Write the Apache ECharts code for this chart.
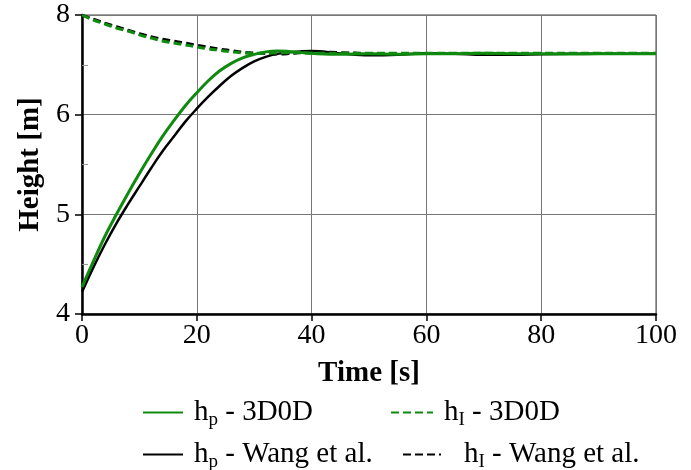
<!DOCTYPE html>
<html>
<head>
<meta charset="utf-8">
<script src="https://cdn.jsdelivr.net/npm/echarts@6/dist/echarts.min.js"></script>
<style>html,body{margin:0;padding:0;background:#fff}#c{width:691px;height:470px}</style>
</head>
<body>
<div id="c"></div>
<script>
// ---- data ----
const times = [0,2,4,6,8,10,12,14,16,18,20,22,24,26,28,30,32,34,36,38,40,45,50,55,60,65,70,75,80,85,90,95,100];
const hp3D0D = [4.27,4.53,4.78,5.00,5.21,5.41,5.60,5.78,5.94,6.09,6.22,6.34,6.44,6.515,6.57,6.605,6.63,6.64,6.635,6.625,6.615,6.605,6.61,6.605,6.61,6.612,6.615,6.612,6.61,6.608,6.61,6.612,6.612];
const hpWang = [4.22,4.47,4.70,4.91,5.10,5.28,5.46,5.63,5.78,5.93,6.06,6.18,6.29,6.39,6.47,6.535,6.58,6.61,6.625,6.635,6.64,6.615,6.595,6.60,6.615,6.61,6.60,6.60,6.605,6.61,6.612,6.612,6.612];
const hI3D0D = [7.0,6.95,6.91,6.87,6.84,6.80,6.77,6.74,6.72,6.70,6.68,6.66,6.645,6.63,6.62,6.615,6.615,6.62,6.622,6.62,6.615,6.615,6.615,6.615,6.615,6.615,6.615,6.615,6.615,6.615,6.615,6.615,6.615];
const hIWang = [7.0,6.96,6.92,6.885,6.85,6.815,6.785,6.76,6.74,6.72,6.70,6.68,6.66,6.645,6.63,6.62,6.61,6.605,6.61,6.62,6.63,6.625,6.615,6.61,6.615,6.615,6.615,6.615,6.615,6.615,6.615,6.615,6.615];
const xTicks = [0,20,40,60,80,100];
const yTickValues = [4,5,6,7];
const yTickLabels = ['4','5','6','8'];
const seriesNames = ['hp - Wang et al.','hI - Wang et al.','hp - 3D0D','hI - 3D0D'];

const pair = (arr) => times.map((t,i)=>[t,arr[i]]);
const FONT = '"Liberation Serif", "DejaVu Serif", serif';
const GREEN = '#0f8a0f';

const chart = echarts.init(document.getElementById('c'), null, {renderer:'canvas'});

function legendItem(name, left, top, width, sub, rest, gap){
  return {
    data:[name], left:left, top:top, itemWidth:width, itemHeight:14,
    padding:0,
    itemStyle:{opacity:0},
    formatter: () => '{g|}{a|h}{b|' + sub + '}{a|' + rest + '}',
    textStyle:{
      fontFamily:FONT, color:'#000',
      rich:{
        g:{width:gap},
        a:{fontSize:29, fontFamily:FONT, color:'#000'},
        b:{fontSize:19, fontFamily:FONT, color:'#000', padding:[15,0,0,0]}
      }
    }
  };
}

const option = {
  animation:false,
  backgroundColor:'#fff',
  grid:{left:82, right:35, top:15, bottom:156, show:true, borderColor:'#444', borderWidth:1, backgroundColor:'transparent'},
  xAxis:{
    type:'value', min:0, max:100, interval:20,
    name:'Time [s]', nameLocation:'middle', nameGap:45,
    nameTextStyle:{fontFamily:FONT, fontSize:29, fontWeight:'bold', color:'#000'},
    axisLine:{show:true, lineStyle:{color:'#000', width:2.5}},
    axisTick:{show:true, length:7, lineStyle:{color:'#000', width:1.5}},
    axisLabel:{fontFamily:FONT, fontSize:28, color:'#000', margin:8,
      formatter:(v)=> xTicks.includes(v) ? String(v) : ''},
    splitLine:{show:true, lineStyle:{color:'#777', width:1}}
  },
  yAxis:{
    type:'value', min:4, max:7, interval:1,
    name:'Height [m]', nameLocation:'middle', nameGap:31,
    nameTextStyle:{fontFamily:FONT, fontSize:29, fontWeight:'bold', color:'#000'},
    axisLine:{show:true, lineStyle:{color:'#000', width:2.5}},
    axisTick:{show:true, length:7, lineStyle:{color:'#000', width:1.5}},
    minorTick:{show:true, splitNumber:2, length:-6, lineStyle:{color:'#999', width:1}},
    axisLabel:{fontFamily:FONT, fontSize:28, color:'#000', margin:12,
      formatter:(v)=>{const i=yTickValues.indexOf(v); return i>=0?yTickLabels[i]:'';}},
    splitLine:{show:true, lineStyle:{color:'#777', width:1}}
  },
  legend:[
    legendItem(seriesNames[2], 142, 398, 40, 'p', ' - 3D0D', 6),
    legendItem(seriesNames[3], 390, 398, 42, 'I', ' - 3D0D', 6),
    legendItem(seriesNames[0], 142, 440, 40, 'p', ' - Wang et al.', 6),
    legendItem(seriesNames[1], 402, 440, 38, 'I', ' - Wang et al.', 18)
  ],
  series:[
    {name:seriesNames[0], type:'line', data:pair(hpWang), smooth:0.4, symbol:'none',
      lineStyle:{color:'#000', width:2.5}, itemStyle:{color:'#000'}},
    {name:seriesNames[1], type:'line', data:pair(hIWang), smooth:0.4, symbol:'none',
      lineStyle:{color:'#000', width:2.5, type:[8,4]}, itemStyle:{color:'#000'}},
    {name:seriesNames[2], type:'line', data:pair(hp3D0D), smooth:0.4, symbol:'none',
      lineStyle:{color:GREEN, width:3}, itemStyle:{color:GREEN}},
    {name:seriesNames[3], type:'line', data:pair(hI3D0D), smooth:0.4, symbol:'none',
      lineStyle:{color:GREEN, width:3, type:[8,4]}, itemStyle:{color:GREEN}}
  ]
};
chart.setOption(option);
</script>
</body>
</html>
